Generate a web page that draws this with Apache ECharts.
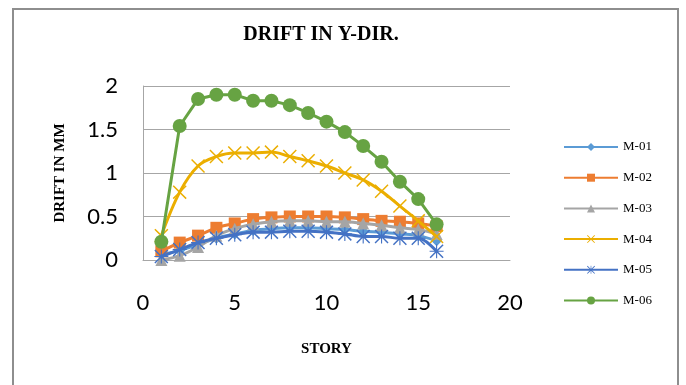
<!DOCTYPE html>
<html>
<head>
<meta charset="utf-8">
<script src="https://cdn.jsdelivr.net/npm/echarts@6/dist/echarts.min.js"></script>
<style>
  html, body { margin: 0; padding: 0; background: #fff; }
  #chart { width: 686px; height: 385px; }
</style>
</head>
<body>
<div id="chart"></div>
<script>
// Storey numbers and inter-storey drift (mm) for each model
const stories = [1, 2, 3, 4, 5, 6, 7, 8, 9, 10, 11, 12, 13, 14, 15, 16];
const m01 = [0.06, 0.11, 0.18, 0.25, 0.30, 0.34, 0.36, 0.37, 0.37, 0.36, 0.35, 0.33, 0.32, 0.30, 0.28, 0.22];
const m02 = [0.10, 0.20, 0.28, 0.37, 0.42, 0.47, 0.49, 0.50, 0.50, 0.50, 0.49, 0.47, 0.45, 0.44, 0.42, 0.39];
const m03 = [0.00, 0.05, 0.15, 0.28, 0.36, 0.41, 0.44, 0.45, 0.45, 0.44, 0.44, 0.42, 0.40, 0.37, 0.35, 0.30];
const m04 = [0.28, 0.78, 1.08, 1.19, 1.23, 1.23, 1.24, 1.19, 1.14, 1.08, 1.00, 0.92, 0.79, 0.62, 0.45, 0.27];
const m05 = [0.04, 0.12, 0.20, 0.25, 0.29, 0.32, 0.32, 0.33, 0.33, 0.32, 0.30, 0.27, 0.27, 0.25, 0.25, 0.10];
const m06 = [0.21, 1.54, 1.85, 1.90, 1.90, 1.83, 1.83, 1.78, 1.69, 1.59, 1.47, 1.31, 1.13, 0.90, 0.70, 0.41];

const seriesNames = ['M-01', 'M-02', 'M-03', 'M-04', 'M-05', 'M-06'];
const yTicks = [0, 0.5, 1, 1.5, 2];
const xTicks = [0, 5, 10, 15, 20];

// marker shapes
const crossPath = 'path://M1.5 0L10 8.5L18.5 0L20 1.5L11.5 10L20 18.5L18.5 20L10 11.5L1.5 20L0 18.5L8.5 10L0 1.5Z';
const starPath = 'path://M1.5 0L10 8.5L18.5 0L20 1.5L11.5 10L20 18.5L18.5 20L10 11.5L1.5 20L0 18.5L8.5 10L0 1.5Z' +
  'M9.2 0L10.8 0L10.8 20L9.2 20Z M0 9.2L20 9.2L20 10.8L0 10.8Z';

const styles = [
  { color: '#5B9BD5', symbol: 'diamond', size: 11, smooth: true },
  { color: '#ED7D31', symbol: 'rect', size: 12, smooth: true },
  { color: '#A5A5A5', symbol: 'triangle', size: 12, smooth: true },
  { color: '#EBAE00', symbol: crossPath, size: 14, smooth: true },
  { color: '#4472C4', symbol: starPath, size: 14, smooth: true },
  { color: '#67A343', symbol: 'circle', size: 14, smooth: false }
];
const values = [m01, m02, m03, m04, m05, m06];

const series = seriesNames.map((name, i) => ({
  name: name,
  type: 'line',
  data: stories.map((s, k) => [s, values[i][k]]),
  symbol: styles[i].symbol,
  symbolSize: styles[i].size,
  smooth: styles[i].smooth ? 0.35 : false,
  showAllSymbol: true,
  lineStyle: { color: styles[i].color, width: 3 },
  itemStyle: { color: styles[i].color, borderWidth: 0 },
  emphasis: { disabled: true },
  z: 2 + i
}));

const chart = echarts.init(document.getElementById('chart'), null, { renderer: 'canvas' });
chart.setOption({
  animation: false,
  backgroundColor: '#fff',
  title: {
    text: 'DRIFT IN Y-DIR.',
    left: 316, top: 20, textAlign: 'center',
    textStyle: { fontFamily: 'Liberation Serif', fontWeight: 'bold', fontSize: 20, color: '#000' }
  },
  graphic: [{
    type: 'rect',
    shape: { x: 13, y: 9, width: 665, height: 400 },
    style: { fill: 'none', stroke: '#8e8e8e', lineWidth: 2 },
    silent: true
  }],
  legend: {
    orient: 'vertical',
    left: 558, top: 135,
    itemWidth: 54, itemHeight: 10, itemGap: 16.7,
    data: seriesNames,
    textStyle: { fontFamily: 'Liberation Serif', fontSize: 13, color: '#000', lineHeight: 14 }
  },
  grid: { left: 143, right: 176, top: 86, bottom: 125 },
  xAxis: {
    type: 'value', min: xTicks[0], max: xTicks[xTicks.length - 1], interval: 5,
    name: 'STORY', nameLocation: 'middle', nameGap: 82,
    nameTextStyle: { fontFamily: 'Liberation Serif', fontWeight: 'bold', fontSize: 15, color: '#000' },
    axisLine: { show: true, lineStyle: { color: '#a6a6a6', width: 1 } },
    axisTick: { show: false },
    splitLine: { show: false },
    axisLabel: { margin: 32, fontFamily: 'Lato', fontSize: 22, color: '#000' }
  },
  yAxis: {
    type: 'value', min: yTicks[0], max: yTicks[yTicks.length - 1], interval: 0.5,
    name: 'DRIFT IN MM', nameLocation: 'middle', nameGap: 75, nameRotate: 90,
    nameTextStyle: { fontFamily: 'Liberation Serif', fontWeight: 'bold', fontSize: 15, color: '#000' },
    axisLine: { show: true, lineStyle: { color: '#a6a6a6', width: 1 } },
    axisTick: { show: false },
    splitLine: { show: true, lineStyle: { color: '#a6a6a6', width: 1 } },
    axisLabel: { margin: 25, fontFamily: 'Lato', fontSize: 22, color: '#000' }
  },
  series: series
});
</script>
</body>
</html>
